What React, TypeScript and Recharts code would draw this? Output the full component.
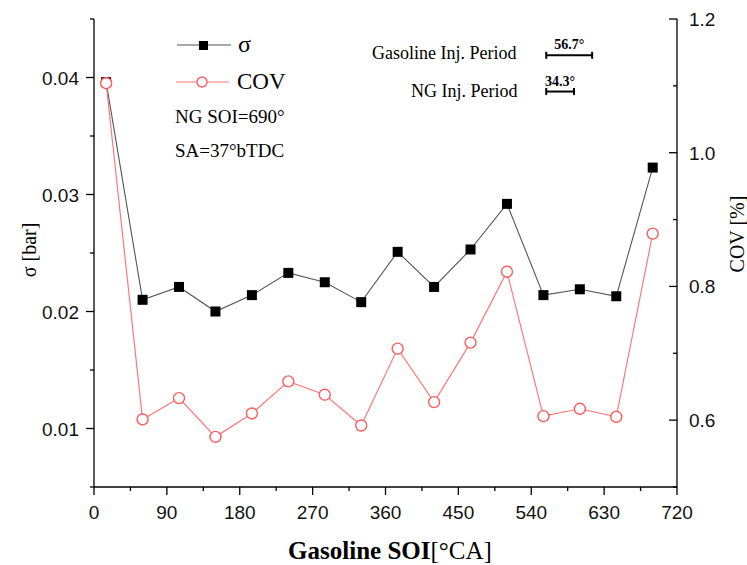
import { ComposedChart, Line, XAxis, YAxis, ReferenceLine } from "recharts";

// gasoline start of injection [°CA]
const soi = [15, 60, 105, 150, 195, 240, 285, 330, 375, 420, 465, 510, 555, 600, 645, 690];
// pressure std deviation [bar]
const sigma = [0.0396, 0.021, 0.0221, 0.02, 0.0214, 0.0233, 0.0225, 0.0208, 0.0251, 0.0221, 0.0253, 0.0292, 0.0214, 0.0219, 0.0213, 0.0323];
// coefficient of variation [%]
const cov = [1.104, 0.601, 0.633, 0.575, 0.61, 0.658, 0.638, 0.592, 0.707, 0.627, 0.716, 0.822, 0.606, 0.617, 0.605, 0.879];

const xTicks = [0, 45, 90, 135, 180, 225, 270, 315, 360, 405, 450, 495, 540, 585, 630, 675, 720];
const sigmaTicks = [0.005, 0.01, 0.015, 0.02, 0.025, 0.03, 0.035, 0.04, 0.045];
const covTicks = [0.5, 0.6, 0.7, 0.8, 0.9, 1.0, 1.1, 1.2];

const injNames = ["Gasoline Inj. Period", "NG Inj. Period"];
const injDegrees = [56.7, 34.3];

// where the injection-period scale bars sit (x in °CA, y on the σ axis)
const injBarStart = 558.5;
const injBarY = [0.0419, 0.0388];

const data = soi.map((s, i) => ({ soi: s, sigma: sigma[i], cov: cov[i] }));

const SERIF = '"Liberation Serif", "Times New Roman", serif';
const SANS = '"Liberation Sans", Arial, sans-serif';
const TICK_FONT = 19;

const isMult = (v: number, step: number) => Math.abs(v / step - Math.round(v / step)) < 1e-6;

const LeftTick = ({ x, y, payload }: any) => {
  const v = payload.value;
  const major = isMult(v, 0.01);
  return (
    <g>
      <line x1={x} x2={x - (major ? 8 : 4)} y1={y} y2={y} stroke="#000" strokeWidth={1.3} />
      {major && (
        <text x={x - 15} y={y + 7} textAnchor="end" fontFamily={SANS} fontSize={TICK_FONT} fill="#111">
          {v.toFixed(2)}
        </text>
      )}
    </g>
  );
};

const RightTick = ({ x, y, payload }: any) => {
  const v = payload.value;
  const major = isMult(v, 0.2);
  return (
    <g>
      <line x1={x} x2={x - (major ? 8 : 4)} y1={y} y2={y} stroke="#000" strokeWidth={1.3} />
      {major && (
        <text x={x + 12} y={y + 7} textAnchor="start" fontFamily={SANS} fontSize={TICK_FONT} fill="#111">
          {v.toFixed(1)}
        </text>
      )}
    </g>
  );
};

const BottomTick = ({ x, y, payload }: any) => {
  const v = payload.value;
  const major = isMult(v, 90);
  return (
    <g>
      <line x1={x} x2={x} y1={y} y2={y + (major ? 8 : 4)} stroke="#000" strokeWidth={1.3} />
      {major && (
        <text x={x} y={y + 32} textAnchor="middle" fontFamily={SANS} fontSize={TICK_FONT} fill="#111">
          {v}
        </text>
      )}
    </g>
  );
};

const SquareDot = ({ cx, cy }: any) => <rect x={cx - 5} y={cy - 5} width={10} height={10} fill="#000" />;

const CircleDot = ({ cx, cy }: any) => (
  <circle cx={cx} cy={cy} r={5.5} fill="#fff" stroke="#ff5c5c" strokeWidth={1.4} />
);

// scale bar with end caps
const CapBar = ({ x1, y1, x2, y2 }: any) => (
  <g stroke="#000" strokeWidth={2}>
    <line x1={x1} y1={y1} x2={x2} y2={y2} />
    <line x1={x1} y1={y1 - 3.5} x2={x1} y2={y1 + 3.5} />
    <line x1={x2} y1={y2 - 3.5} x2={x2} y2={y2 + 3.5} />
  </g>
);

export default function App() {
  return (
    <div style={{ position: "absolute", left: 0, top: 0, width: 747, height: 565, background: "#fff" }}>
      <ComposedChart width={747} height={565} data={data} margin={{ top: 19, right: 0, bottom: 0, left: 0 }}>
        <XAxis
          dataKey="soi"
          type="number"
          domain={[0, 720]}
          ticks={xTicks}
          interval={0}
          height={78}
          tickSize={0}
          tickMargin={0}
          tick={<BottomTick />}
          axisLine={{ stroke: "#000", strokeWidth: 1.3 }}
        />
        <XAxis
          xAxisId="top"
          orientation="top"
          type="number"
          domain={[0, 720]}
          height={0}
          tick={false}
          tickLine={false}
          axisLine={{ stroke: "#000", strokeWidth: 1.3 }}
        />
        <YAxis
          yAxisId="left"
          type="number"
          domain={[0.005, 0.045]}
          ticks={sigmaTicks}
          interval={0}
          width={94}
          tickSize={0}
          tickMargin={0}
          tick={<LeftTick />}
          axisLine={{ stroke: "#000", strokeWidth: 1.3 }}
        />
        <YAxis
          yAxisId="right"
          orientation="right"
          type="number"
          domain={[0.5, 1.2]}
          ticks={covTicks}
          interval={0}
          width={70}
          tickSize={0}
          tickMargin={0}
          tick={<RightTick />}
          axisLine={{ stroke: "#000", strokeWidth: 1.3 }}
        />

        <Line
          yAxisId="left"
          dataKey="sigma"
          stroke="#555"
          strokeWidth={1.1}
          dot={<SquareDot />}
          activeDot={false}
          isAnimationActive={false}
        />
        <Line
          yAxisId="right"
          dataKey="cov"
          stroke="#ff7878"
          strokeWidth={1.2}
          dot={<CircleDot />}
          activeDot={false}
          isAnimationActive={false}
        />

        {injDegrees.map((deg, i) => (
          <ReferenceLine
            key={injNames[i]}
            yAxisId="left"
            segment={[
              { x: injBarStart, y: injBarY[i] },
              { x: injBarStart + deg, y: injBarY[i] },
            ]}
            shape={<CapBar />}
            label={{
              value: `${deg}°`,
              position: "top",
              offset: 6,
              fontFamily: SERIF,
              fontWeight: "bold",
              fontSize: 14,
              fill: "#000",
            }}
          />
        ))}
      </ComposedChart>

      <svg
        width={747}
        height={565}
        style={{ position: "absolute", left: 0, top: 0, pointerEvents: "none" }}
        fontFamily={SERIF}
      >
        {/* legend */}
        <line x1={177} x2={231} y1={45} y2={45} stroke="#555" strokeWidth={1.1} />
        <rect x={199} y={41} width={9} height={9} fill="#000" />
        <text x={238} y={52} fontSize={24} fill="#000">σ</text>
        <line x1={176} x2={229} y1={82} y2={82} stroke="#ff7878" strokeWidth={1.2} />
        <circle cx={202} cy={82} r={5} fill="#fff" stroke="#ff5c5c" strokeWidth={1.4} />
        <text x={237} y={89} fontSize={23} fill="#000">COV</text>

        <text x={175} y={123} fontSize={19} fill="#000">NG SOI=690°</text>
        <text x={175} y={157} fontSize={19} fill="#000">SA=37°bTDC</text>

        {injNames.map((n, i) => (
          <text key={n} x={i === 0 ? 372 : 411} y={i === 0 ? 59 : 97} fontSize={18} fill="#000">
            {n}
          </text>
        ))}

        {/* axis titles */}
        <text x={0} y={0} transform="translate(36 250) rotate(-90)" textAnchor="middle" fontSize={20} fill="#000">
          σ [bar]
        </text>
        <text x={0} y={0} transform="translate(744 234) rotate(-90)" textAnchor="middle" fontSize={20} fill="#000">
          COV [%]
        </text>
        <text x={390} y={559} textAnchor="middle" fontSize={25} fill="#000">
          <tspan fontWeight="bold">Gasoline SOI</tspan>
          <tspan>[°CA]</tspan>
        </text>
      </svg>
    </div>
  );
}
